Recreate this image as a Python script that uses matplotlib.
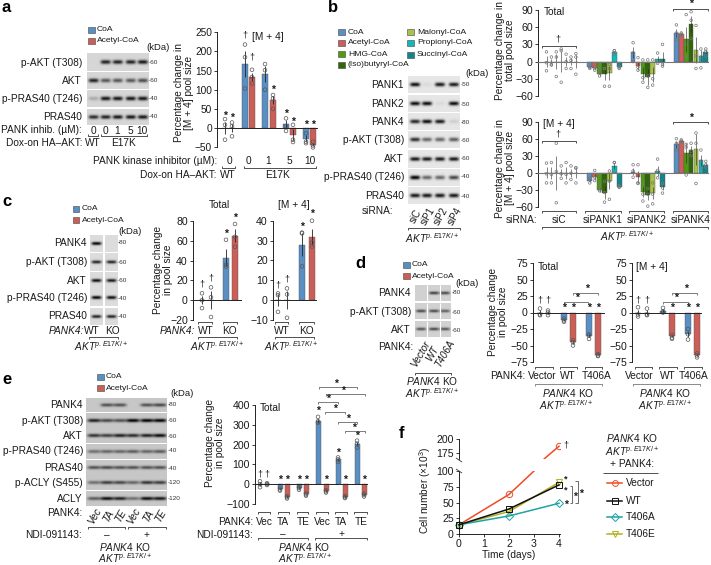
import numpy as np
import matplotlib
matplotlib.use('Agg')
import matplotlib.pyplot as plt

plt.rcParams['font.family'] = ['Liberation Sans', 'DejaVu Sans']
plt.rcParams['mathtext.fontset'] = 'custom'
plt.rcParams['mathtext.rm'] = 'Liberation Sans'
plt.rcParams['mathtext.it'] = 'Liberation Sans:italic'
plt.rcParams['mathtext.default'] = 'it'

W, H = 711, 565
COA, ACE, HMG, ISO, MAL, PRO, SUC = '#5a8fc4', '#cb5f58', '#4f9a14', '#2f6608', '#a9c04a', '#12b7b9', '#12848c'
AKT = r'$\mathit{AKT}^{p.E17K/+}$'

# ---------- panel a data ----------
a_pts = [[23, 8, -31], [14, 5, -22], [218, 185, 103], [152, 133, 116], [167, 151, 100], [86, 77, 50],
         [25, 5, -8], [8, -31, -37], [-14, -36, -40], [-36, -46, -51]]
a_vals = [0, 0, 167, 133, 141, 73, 10, -18, -28, -44]
a_doses = ['0', '0', '1', '5', '10']
# ---------- panel b data ----------
b_total_vals = [[0, 0, 0, 0, 0, 0, 0], [-10, -12, -22, -22, -20, 17, -10],
                [16, -8, -21, -27, -22, 4, 5], [50, 48, 39, 66, 20, 10, 16]]
b_total_pts = [[[17, -2, -16], [8, -6, -5], [17, -26, 8], [22, -36, 19], [13, -12, 0], [8, -12, 2], [14, -22, 8]],
               [[-8, -10, -12], [-9, -12, -15], [-12, -20, -25], [-12, -12, -43], [-5, -12, -43], [19, 19, 13], [-8, -11, -12]],
               [[33, 15, 0], [7, -10, -15], [3, -28, -36], [3, -25, -45], [3, -30, -41], [15, 0, -3], [30, -5, -8]],
               [[64, 50, 38], [50, 48, 46], [82, 30, 8], [87, 72, 40], [63, 10, -12], [22, 8, -11], [22, 18, 10]]]
b_m4_vals = [[0, 0, 0, 0, 0, 0, 0], [-14, -8, -30, -35, -14, 12, -25],
             [2, -8, -34, -39, -36, 3, -26], [50, 56, 35, 40, 41, 22, 14]]
b_m4_pts = [[[17, -2, -18], [18, -3, -18], [52, 2, -53], [12, -2, -10], [18, -3, -18], [12, -1, -12], [9, 8, -18]],
            [[-10, -13, -18], [4, -8, -14], [-20, -30, -32], [-15, -35, -52], [3, -15, -47], [18, 18, 1], [-23, -25, -26]],
            [[14, 3, -8], [14, -18, -19], [-20, -38, -50], [-28, -38, -59], [-18, -38, -55], [24, 4, -9], [-19, -27, -36]],
            [[60, 52, 40], [58, 56, 54], [50, 45, -4], [52, 38, 30], [70, 52, -19], [40, 20, 8], [20, 14, 10]]]
b_groups = ['siC', 'siPANK1', 'siPANK2', 'siPANK4']
b_names = ['CoA', 'Acetyl-CoA', 'HMG-CoA', '(Iso)butyryl-CoA', 'Malonyl-CoA', 'Propionyl-CoA', 'Succinyl-CoA']
# ---------- panel c data ----------
c_total_vals = [0, 0, 43, 65]
c_total_pts = [[7, 0, -8], [13, 3, -17], [61, 36, 34], [77, 64, 54]]
c_m4_vals = [0, 0, 28, 31.6]
c_m4_pts = [[3.4, 2.5, -5.9], [5.9, 2.9, -8.9], [34, 33.6, 17], [40, 29, 27]]
# ---------- panel d data ----------
d_total_vals = [0, 0, -11, -45, -35, -64]
d_total_pts = [[6, -3, -4], [3, 0, -4], [-9, -12, -14], [-42, -45, -50], [-33, -35, -40], [-63, -65, -66]]
d_m4_vals = [0, 0, 3, -36, -33, -64]
d_m4_pts = [[8, -3, -6], [6, -3, -4], [7, 2, 0], [-34, -38, -40], [-25, -33, -41], [-62, -65, -68]]
# ---------- panel e data ----------
e_vals = [0, 0, -25, -65, -20, -52, 320, -35, 125, -65, 205, -55]
e_pts = [[15, 0, -15], [5, 0, -4], [-18, -27, -32], [-60, -66, -72], [-15, -20, -28], [-46, -52, -58],
         [340, 318, 310], [-30, -36, -42], [135, 125, 112], [-60, -66, -70], [220, 205, 185], [-48, -55, -62]]
# ---------- panel f data ----------
f_days = [0, 2, 4]
f_vector_days = [0, 2, 3, 3.4, 4]
f_vector = [15, 63, 100, 164, 187]
f_wt = [15, 40, 78]
f_t406a = [15, 29, 49]
f_t406e = [15, 36, 82]
# ---------- blot band levels ----------
a_bands = [[0, .85, .85, .85, .9], [.85, .6, .6, .6, .65], [.2, .9, .9, .9, .9], [.8, .85, .9, .9, .9]]
b_bands = [[.95, .05, .9, .9], [.95, .95, .05, .95], [.85, .95, .9, .1], [.8, .55, .55, .6],
           [.9, .9, .9, .9], [1, .55, .55, .7], [.9, .9, .9, .9]]
c_bands = [[1, 0], [.85, .85], [.95, .9], [1, .95], [.85, .85]]
d_bands = [[0, .7, .65], [.65, .65, .55], [.6, .65, .6]]
e_bands = [[0, .6, .6, 0, .6, .65], [.85, .65, .6, 1, 1, 1], [.75, .7, .85, .8, .85, .95],
           [.45, .5, .5, .55, .5, .55], [.6, .65, .6, .6, .6, .6], [.45, .7, .65, .5, .75, .7],
           [.55, .95, .85, .45, .95, .9]]

fig = plt.figure(figsize=(W / 100, H / 100), dpi=100)
ov = fig.add_axes([0, 0, 1, 1], zorder=10)
ov.patch.set_alpha(0)
ov.axis('off')
L = 7.3  # main text size
TS = 7.6  # tick label size


def T(x, y, s, size=L, ha='center', va='center', **kw):
    ov.text(x, y, s, fontsize=size, ha=ha, va=va, color=kw.pop('color', '#1a1a1a'), **kw)


def star(x, y):
    T(x, y + 1.2, '*', size=7.5, fontweight='bold')


def dag(x, y):
    T(x, y, '†', size=6.5)


def line(xs, ys, c='#333333', lw=0.6):
    ov.plot(xs, ys, color=c, lw=lw, solid_capstyle='butt')


def br(x0, x1, y, d=2, c='#333333', up=False):
    s = -1 if up else 1
    line([x0, x0, x1, x1], [y + s * d, y, y, y + s * d], c=c)


def blot(x0, y0, x1, y1, lanes, levels, bg=.84, bw=5.0, bh=2.0):
    xs = np.linspace(x0, x1, int((x1 - x0) * 4))
    ys = np.linspace(y0, y1, int((y1 - y0) * 4))
    X, Y = np.meshgrid(xs, ys)
    img = np.full(X.shape, bg)
    yc = (y0 + y1) / 2
    for l, v in zip(lanes, levels):
        img -= v * bg * np.exp(-((X - l) / bw) ** 4) * np.exp(-((Y - yc) / bh) ** 2)
    ov.imshow(img, extent=(x0, x1, y1, y0), cmap='gray', vmin=0, vmax=1, aspect='auto', interpolation='bilinear')


def swatch(x, y, c, w=6.5, h=6):
    ov.add_patch(plt.Rectangle((x, y - h / 2), w, h, fc=c, ec='#444444', lw=.4))


def chart(l, t, r, b, ymin, ymax, ticks, labels=None, size=TS):
    ax = fig.add_axes([l / W, 1 - b / H, (r - l) / W, (b - t) / H])
    ax.patch.set_alpha(0)
    ax.set_xlim(l, r)
    ax.set_ylim(ymin, ymax)
    for s in ['top', 'right', 'bottom']:
        ax.spines[s].set_visible(False)
    ax.spines['left'].set_linewidth(.6)
    ax.set_xticks([])
    ax.set_yticks(ticks)
    ax.set_yticklabels(labels if labels else [str(v).replace('-', '−') for v in ticks])
    ax.tick_params(axis='y', length=2.2, width=.6, pad=1.5, labelsize=size, colors='#1a1a1a')
    return ax


def bars(ax, xs, vals, pts, cols, w=6, s=7, ec='#555555', elw=.6):
    err = [np.std(p, ddof=1) / np.sqrt(len(p)) for p in pts]
    ax.bar(xs, vals, width=w, color=cols, edgecolor='#555555', linewidth=.3, zorder=2)
    ax.errorbar(xs, vals, yerr=err, fmt='none', ecolor='#222222', elinewidth=elw, zorder=3, clip_on=False)
    for x, p in zip(xs, pts):
        ax.scatter([x] * len(p), p, s=s, facecolor='none', edgecolor=ec, linewidth=.5, zorder=4, clip_on=False)
    ax.axhline(0, color='#222222', lw=.7, zorder=5)


def rowlabels(rx, names, ys, kx, kds, size=L):
    for n, y, k in zip(names, ys, kds):
        T(rx, y, n, size=size, ha='right')
        T(kx, y, '-' + k, size=4.6, ha='left', color='#333333')


def legend2(x, y1, y2, size=6.1):
    swatch(x, y1, COA)
    swatch(x, y2, ACE)
    T(x + 9, y1, 'CoA', size=size, ha='left')
    T(x + 9, y2, 'Acetyl-CoA', size=size, ha='left')


# ---------- panel a ----------
T(2, 8, 'a', size=12, ha='left', fontweight='bold', color='k')
legend2(88, 29.5, 40.5)
T(158, 48, '(kDa)', size=6.8)
a_l = [93, 105, 117, 130, 142]
a_rows = [(54, 71.5), (73, 89.5), (91, 107.5), (109, 125)]
for (y0, y1), lv in zip(a_rows, a_bands):
    blot(86.5, y0, 148, y1, a_l, lv)
rowlabels(82, ['p-AKT (T308)', 'AKT', 'p-PRAS40 (T246)', 'PRAS40'], [62.5, 81, 99, 117], 149, ['60', '60', '40', '40'])
T(82, 130, 'PANK inhib. (µM):', ha='right')
for x, d in zip(a_l, a_doses):
    T(x, 130.5, d)
br(88, 98, 136, up=True)
br(101, 147, 136, up=True)
T(82, 143, 'Dox-on HA–AKT:', ha='right')
T(93, 143, 'WT')
T(124, 143, 'E17K')

ax = chart(217, 32.3, 318, 147, -50, 250, [-50, 0, 50, 100, 150, 200, 250], size=7.3)
bars(ax, [225, 232, 245, 252, 265, 273, 286, 293, 306, 313], a_vals, a_pts, [COA, ACE] * 5)
T(184, 93, 'Percentage change in\n[M + 4] pool size', rotation=90, linespacing=1.05)
dag(245, 35)
T(252, 37, '[M + 4]', ha='left')
dag(252, 57)
for x, y in [(225, 115), (232, 117), (273, 89), (286, 113), (293, 121), (306, 124), (313, 124)]:
    star(x, y)
T(217, 161, 'PANK kinase inhibitor (µM):', ha='right')
for x, d in zip([229, 248, 268, 289, 310], a_doses):
    T(x, 161, d)
br(222, 235, 168, up=True)
br(244, 316, 168, up=True)
T(217, 175, 'Dox-on HA–AKT:', ha='right')
T(228, 175, 'WT')
T(278, 175, 'E17K')

# ---------- panel b ----------
T(328, 8, 'b', size=12, ha='left', fontweight='bold', color='k')
b_cols = [COA, ACE, HMG, ISO, MAL, PRO, SUC]
for n, c, x, y in zip(b_names, b_cols, [338] * 4 + [407] * 3, [32, 43, 54, 65, 32, 43, 55]):
    swatch(x, y, c)
    T(x + 10, y, n, size=6.1, ha='left')
T(477, 73, '(kDa)', size=6.8)
b_l = [415, 427, 440, 454]
b_rows = [(76, 93), (95, 112), (113.5, 130.5), (132, 148.5), (150, 168), (169.5, 186), (187.5, 204)]
for (y0, y1), lv in zip(b_rows, b_bands):
    blot(408, y0, 460, y1, b_l, lv, bg=.9)
rowlabels(404, ['PANK1', 'PANK2', 'PANK4', 'p-AKT (T308)', 'AKT', 'p-PRAS40 (T246)', 'PRAS40'],
          [85, 104, 122, 140, 159, 177, 196], 461, ['50', '50', '80', '60', '60', '40', '40'])
T(393, 211, 'siRNA:', ha='right')
for x, s in zip(b_l, ['siC', 'siP1', 'siP2', 'siP4']):
    T(x + 1, 216, s, size=7, rotation=60)
br(408, 460, 228)
T(432, 238, AKT)

for (t, b, vals, pts) in [(10, 96, b_total_vals, b_total_pts), (121.7, 206.7, b_m4_vals, b_m4_pts)]:
    ax = chart(538, t, 709, b, -60, 90, [-60, -30, 0, 30, 60, 90])
    for g, (gv, gp) in enumerate(zip(vals, pts)):
        xs = [546.5 + 43.3 * g + 4.9 * i for i in range(7)]
        bars(ax, xs, gv, gp, b_cols, w=4.7, s=3.5, ec='#777777', elw=.4)
    ax.axhline(0, color='#777777', lw=.8, zorder=5)
T(505, 50, 'Percentage change in\ntotal pool size', rotation=90, linespacing=1.05)
T(505, 168, 'Percentage change in\n[M + 4] pool size', rotation=90, linespacing=1.05)
T(554, 12, 'Total')
T(559, 124, '[M + 4]')
br(542, 576, 46)
dag(558, 39)
br(673, 708, 9)
star(691, 3)
br(542, 576, 141)
dag(558, 134)
br(673, 708, 122)
star(691, 117)
for (x0, x1), g in zip([(542, 576), (585, 621), (629, 664), (673, 708)], b_groups):
    br(x0, x1, 211)
    T((x0 + x1) / 2, 220, g)
T(537, 220, 'siRNA:', ha='right')
br(542, 708, 227)
T(627, 236, AKT)

# ---------- panel c ----------
T(2, 202, 'c', size=12, ha='left', fontweight='bold', color='k')
legend2(72.5, 209, 220)
T(130, 232, '(kDa)', size=6.8)
c_rows = [(235, 252), (253.5, 271.5), (272.5, 289), (290, 306.5), (308, 325)]
for (y0, y1), lv in zip(c_rows, c_bands):
    blot(90, y0, 103, y1, [96.5], lv[:1], bg=.86, bh=1.6)
    blot(104.5, y0, 117.5, y1, [111], lv[1:], bg=.86, bh=1.6)
rowlabels(87, ['PANK4', 'p-AKT (T308)', 'AKT', 'p-PRAS40 (T246)', 'PRAS40'], [243, 262, 281, 298, 316], 118,
          ['80', '60', '60', '40', '40'])
T(84, 331, 'PANK4:', ha='right', style='italic')
T(92, 331, 'WT')
T(112, 331, 'KO')
br(89, 118, 337)
T(101, 346, AKT)

ax = chart(193, 221, 242, 320, -20, 80, [-20, 0, 20, 40, 60, 80])
bars(ax, [202, 211, 226, 235], c_total_vals, c_total_pts, [COA, ACE, COA, ACE])
ax = chart(273, 220.7, 317, 320, -10, 40, [-10, 0, 10, 20, 30, 40])
bars(ax, [278, 287, 302, 312], c_m4_vals, c_m4_pts, [COA, ACE, COA, ACE])
T(163, 270, 'Percentage change\nin pool size', rotation=90, linespacing=1.05)
T(219, 205, 'Total')
T(294, 205, '[M + 4]')
for x, y in [(202, 284), (211, 278), (278, 285), (287, 279)]:
    dag(x, y)
for x, y in [(226, 233), (235, 217), (302, 226), (312, 213)]:
    star(x, y)
for a, b in [(198, 212), (223, 237), (275, 288), (299, 314)]:
    br(a, b, 322)
T(195, 331, 'PANK4:', ha='right', style='italic')
T(206, 331, 'WT')
T(229, 331, 'KO')
br(198, 237, 337)
T(217, 346, AKT)
T(282, 331, 'WT')
T(306, 331, 'KO')
br(275, 314, 337)
T(291, 346, AKT)

# ---------- panel d ----------
T(355, 263, 'd', size=12, ha='left', fontweight='bold', color='k')
legend2(403, 265, 276)
T(467, 284, '(kDa)', size=6.8)
d_l = [421, 434, 445]
for (y0, y1), lv in zip([(285, 301), (303, 319), (321, 337)], d_bands):
    blot(415, y0, 451, y1, d_l, lv, bg=.82, bw=5, bh=1.5)
    line([427, 427], [y0, y1], c='white', lw=.8)
    line([440, 440], [y0, y1], c='white', lw=.8)
rowlabels(411, ['PANK4', 'p-AKT (T308)', 'AKT'], [293, 312, 330], 452, ['80', '60', '60'])
T(413, 347, 'PANK4:', ha='right')
for x, s in zip([421, 432, 445], ['Vector', 'WT', 'T406A']):
    T(x, 354, s, size=7.2, rotation=60, style='italic')
br(415, 451, 373)
T(432, 381, r'$\mathit{PANK4}$ KO')
T(432, 393.5, AKT)

t_ticks = [-75, -50, -25, 0, 25, 50, 75]
ax = chart(533, 263, 605, 362, -75, 75, t_ticks)
bars(ax, [540, 548, 564, 573, 589, 598], d_total_vals, d_total_pts, [COA, ACE] * 3)
ax = chart(632, 263, 702, 362, -75, 75, t_ticks)
bars(ax, [638, 647, 663, 672, 688, 697], d_m4_vals, d_m4_pts, [COA, ACE] * 3)
T(498, 312, 'Percentage change\nin pool size', rotation=90, linespacing=1.05)
T(548, 267, 'Total')
T(652, 267, '[M + 4]')
for x in [540, 548, 638, 647]:
    dag(x, 300)
for x in [564, 573, 589, 598, 672, 688, 697]:
    star(x, 307)
for a, b, y, sx in [(564, 588, 302, 577), (573, 598, 293, 587), (663, 688, 302, 676), (672, 697, 293, 686)]:
    br(a, b, y, c='#666666')
    star(sx, y - 5)
for a, b in [(535, 553), (560, 577), (585, 602), (635, 652), (659, 677), (684, 702)]:
    br(a, b, 367)
T(525, 376, 'PANK4:', ha='right')
for x, s in zip([542, 568, 597, 639, 668, 694], ['Vector', 'WT', 'T406A'] * 2):
    T(x, 376, s)
br(535, 602, 384, c='#777777')
br(633, 700, 384, c='#777777')
T(568, 393, r'$\mathit{PANK4}$ KO')
T(665, 393, r'$\mathit{PANK4}$ KO')
T(566, 405, AKT)
T(665, 405, AKT)

# ---------- panel e ----------
T(2, 380, 'e', size=12, ha='left', fontweight='bold', color='k')
legend2(97, 377, 388)
T(182, 394, '(kDa)', size=6.8)
e_l = [94, 107, 120, 133, 147, 160]
e_rows = [(398, 412), (413.5, 428), (429, 443.5), (444.5, 459), (460, 475), (476, 490.5), (491.5, 506.5)]
for (y0, y1), lv in zip(e_rows, e_bands):
    blot(86, y0, 167, y1, e_l, lv, bg=.78, bw=6.5, bh=1.7)
rowlabels(83, ['PANK4', 'p-AKT (T308)', 'AKT', 'p-PRAS40 (T246)', 'PRAS40', 'p-ACLY (S455)', 'ACLY'],
          [405, 421, 436, 451, 468, 483, 499], 168, ['80', '60', '60', '40', '40', '120', '120'])
T(82, 513, 'PANK4:', ha='right')
for x, s in zip(e_l, ['Vec', 'TA', 'TE'] * 2):
    T(x + 1, 516, s, size=7.2, rotation=60, style='italic')
br(88, 125, 527)
br(128, 166, 527)
T(82, 535, 'NDI-091143:', ha='right')
T(107, 535, '–')
T(146, 535, '+')
T(125, 547, r'$\mathit{PANK4}$ KO')
T(125, 558.5, AKT)

ax = chart(255, 405, 368, 504, -100, 400, [-100, 0, 100, 200, 300, 400])
bars(ax, [260, 267, 280, 287, 299, 306, 318, 326, 338, 345, 357, 364], e_vals, e_pts, [COA, ACE] * 6, w=5)
T(215, 443, 'Percentage change\nin pool size', rotation=90, linespacing=1.05)
T(270, 408, 'Total')
dag(260, 474)
dag(267, 474)
for x, y in [(280, 479), (287, 479), (299, 479), (306, 479), (318, 410), (326, 479), (338, 452), (345, 479),
             (357, 435), (364, 479)]:
    star(x, y)
for a, b, y, sx in [(319, 357, 387, 336), (326, 365, 394, 343), (318, 338, 402, 328), (325, 345, 412, 335),
                    (338, 357, 422, 348), (345, 365, 431, 354)]:
    br(a, b, y, c='#666666')
    star(sx, y - 4.5)
for a, b in [(258, 270), (278, 289), (297, 308), (316, 328), (335, 347), (354, 367)]:
    br(a, b, 512)
T(253, 522, 'PANK4:', ha='right')
for x, s in zip([264, 283, 303, 322, 341, 361], ['Vec', 'TA', 'TE'] * 2):
    T(x, 522, s)
T(253, 535, 'NDI-091143:', ha='right')
br(258, 308, 538)
br(315, 367, 538)
T(283, 534, '–')
T(341, 534, '+')
T(304, 547, r'$\mathit{PANK4}$ KO')
T(305, 558.5, AKT)

# ---------- panel f ----------
T(399, 434, 'f', size=12, ha='left', fontweight='bold', color='k')
lo = chart(459, 471, 560, 534.3, 0, 100, [0, 25, 50, 75, 100])
hi = chart(459, 439, 560, 459, 164, 200, [175, 200])
for a in (lo, hi):
    a.set_xlim(0, 4.04)
series = [(f_days, f_t406e, '#b3b21c', 'v'), (f_days, f_t406a, '#1fa3a6', 'D'), (f_days, f_wt, '#111111', 's')]
lo.plot(f_vector_days, f_vector, color='#ef4b2a', lw=1.1, marker='o', markevery=[0, 1], ms=4.6, mfc='none', mew=.7)
hi.plot(f_vector_days, f_vector, color='#ef4b2a', lw=1.1, marker='o', markevery=[4], ms=4.6, mfc='none', mew=.7)
for xs, ys, c, m in series:
    lo.plot(xs, ys, color=c, lw=1.1, marker=m, ms=4.2, mfc='none', mew=.7, clip_on=False)
lo.spines['bottom'].set_visible(True)
lo.spines['bottom'].set_linewidth(.6)
lo.set_xticks([0, 1, 2, 3, 4])
lo.tick_params(axis='x', length=2.2, width=.6, pad=1.5, labelsize=TS, colors='#1a1a1a')
line([456, 462], [458, 462], lw=.6)
line([456, 462], [469, 473], lw=.6)
T(509, 555, 'Time (days)')
T(425, 490, 'Cell number (×10$^{3}$)', rotation=90)
dag(566, 445)
T(566, 479, '*', size=6.5, fontweight='bold')
T(566, 490, '*', size=6.5, fontweight='bold')
star(566, 504)
line([570, 572, 572, 570], [486, 486, 503, 503], lw=.5)
star(575, 496)
line([575, 578, 578, 575], [481, 481, 503, 503], lw=.5)
star(581, 493)
T(632, 438, r'$\mathit{PANK4}$ KO')
T(632, 451, AKT)
T(632, 464, '+ PANK4:')
line([603, 658], [473, 473], lw=.6)
for y, n, c, m in [(483, 'Vector', '#ef4b2a', 'o'), (501, 'WT', '#111111', 's'), (517, 'T406A', '#1fa3a6', 'D'),
                   (534, 'T406E', '#b3b21c', 'v')]:
    ov.plot([607, 622], [y, y], color=c, lw=1.1)
    ov.plot([614.5], [y], marker=m, ms=4.2, mfc='none', mec=c, mew=.7)
    T(626, y, n, ha='left')

ov.set_xlim(0, W)
ov.set_ylim(H, 0)
fig.savefig('out.png', dpi=100)
